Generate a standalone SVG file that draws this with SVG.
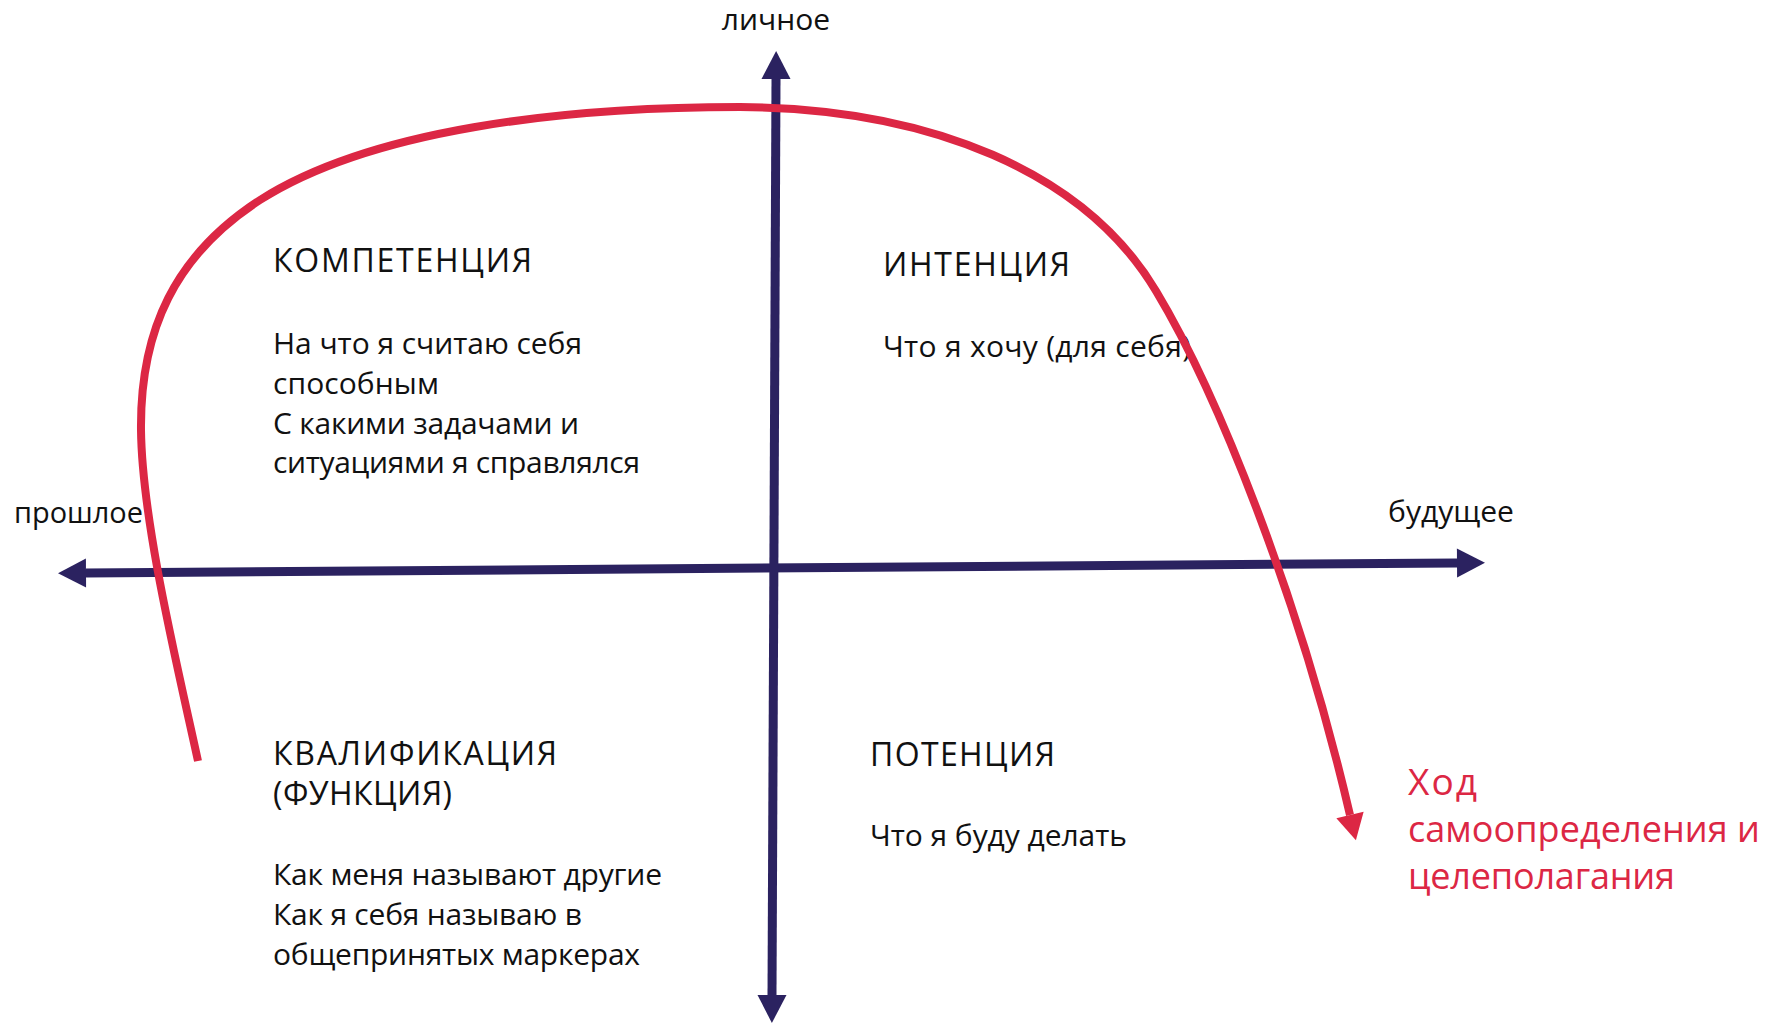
<svg xmlns="http://www.w3.org/2000/svg" width="1772" height="1024" viewBox="0 0 1772 1024">
<style>
  text { font-family: "Open Sans", "Noto Sans", "Liberation Sans", sans-serif; fill: #111111; }
  .body { font-size: 30px; }
  .title { font-size: 32px; }
  .axislbl { font-size: 30px; }
  .red { fill: #dc2744; font-size: 37px; }
  .redsm { fill: #dc2744; font-size: 36px; }
  .axis { fill: none; stroke: #2b2260; stroke-width: 9; }
  .path { fill: none; stroke: #dc2744; stroke-width: 8; }
</style>
<defs>
  <marker id="navArrow" markerUnits="userSpaceOnUse" markerWidth="29" markerHeight="30" refX="0" refY="14.5" orient="auto-start-reverse" overflow="visible">
    <path d="M0,0 L28,14.5 L0,29 z" fill="#2b2260"/>
  </marker>
  <marker id="redArrow" markerUnits="userSpaceOnUse" markerWidth="27" markerHeight="29" refX="0" refY="14" orient="auto" overflow="visible">
    <path d="M0,0 L26,14 L0,28 z" fill="#dc2744"/>
  </marker>
</defs>
<rect width="1772" height="1024" fill="#ffffff"/>

<g id="axis-labels">
  <text class="axislbl" x="776" y="30" text-anchor="middle">личное</text>
  <text class="axislbl" x="14" y="523" textLength="129" lengthAdjust="spacingAndGlyphs">прошлое</text>
  <text class="axislbl" x="1388" y="522" textLength="126" lengthAdjust="spacingAndGlyphs">будущее</text>
</g>

<g id="competence">
  <text class="title" x="273" y="272" textLength="259" lengthAdjust="spacing">КОМПЕТЕНЦИЯ</text>
  <text class="body" x="273" y="354" textLength="309" lengthAdjust="spacing">На что я считаю себя</text>
  <text class="body" x="273" y="394" textLength="166" lengthAdjust="spacing">способным</text>
  <text class="body" x="273" y="434" textLength="306" lengthAdjust="spacing">С какими задачами и</text>
  <text class="body" x="273" y="473" textLength="367" lengthAdjust="spacing">ситуациями я справлялся</text>
</g>

<g id="intention">
  <text class="title" x="883" y="276" textLength="187" lengthAdjust="spacing">ИНТЕНЦИЯ</text>
  <text class="body" x="883" y="357" textLength="308" lengthAdjust="spacing">Что я хочу (для себя)</text>
</g>

<g id="qualification">
  <text class="title" x="273" y="765" textLength="284" lengthAdjust="spacing">КВАЛИФИКАЦИЯ</text>
  <text class="title" x="273" y="805" textLength="179" lengthAdjust="spacing">(ФУНКЦИЯ)</text>
  <text class="body" x="273" y="885" textLength="389" lengthAdjust="spacing">Как меня называют другие</text>
  <text class="body" x="273" y="925" textLength="309" lengthAdjust="spacing">Как я себя называю в</text>
  <text class="body" x="273" y="965" textLength="367" lengthAdjust="spacing">общепринятых маркерах</text>
</g>

<g id="potential">
  <text class="title" x="870" y="766" textLength="185" lengthAdjust="spacing">ПОТЕНЦИЯ</text>
  <text class="body" x="870" y="846" textLength="257" lengthAdjust="spacing">Что я буду делать</text>
</g>

<g id="path-label">
  <text class="red" x="1408" y="795" textLength="69" lengthAdjust="spacing">Ход</text>
  <text class="redsm" x="1408" y="842" textLength="352" lengthAdjust="spacing">самоопределения и</text>
  <text class="redsm" x="1408" y="889" textLength="267" lengthAdjust="spacing">целеполагания</text>
</g>

<g id="connectors">
  <path id="axis-time" class="axis" d="M86,573 L1457,563" marker-start="url(#navArrow)" marker-end="url(#navArrow)"/>
  <path id="axis-personal" class="axis" d="M772,995 L776,79" marker-start="url(#navArrow)" marker-end="url(#navArrow)"/>
  <path id="self-determination" class="path" d="M198,761 C176,660 142,520 141,430 C140,330 175,255 260,200 C370,130 560,107 740,107 C930,108 1085,172 1156,291 C1218,394 1300,600 1350,815" marker-end="url(#redArrow)"/>
</g>
</svg>
